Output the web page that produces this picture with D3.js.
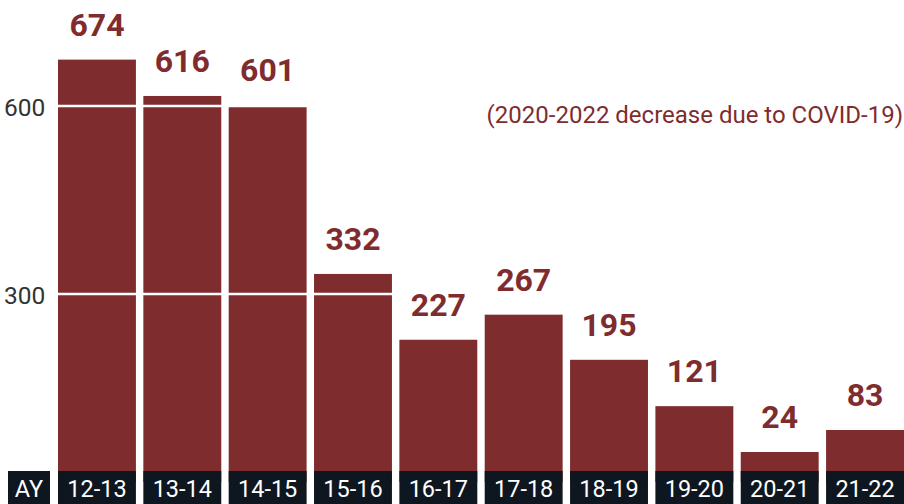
<!DOCTYPE html>
<html>
<head>
<meta charset="utf-8">
<script src="https://cdn.jsdelivr.net/npm/d3@7"></script>
<style>
  body { margin: 0; background: #fff; }
  svg { display: block; font-family: Roboto, "Noto Sans", sans-serif; }
</style>
</head>
<body>
<div id="chart"></div>
<script>
// academic years and enrolment counts
var years = ['12-13', '13-14', '14-15', '15-16', '16-17', '17-18', '18-19', '19-20', '20-21', '21-22'];
var counts = [674, 616, 601, 332, 227, 267, 195, 121, 24, 83];
var yTicks = [300, 600];
var note = '(2020-2022 decrease due to COVID-19)';

var width = 904, height = 504;
var barColor = '#7f2c2e', boxColor = '#0e1720';

var svg = d3.select('#chart').append('svg')
    .attr('width', width)
    .attr('height', height);

var x = d3.scaleBand()
    .domain(years)
    .range([58, 904])
    .paddingInner(0.087)
    .paddingOuter(0);

var y = d3.scaleLinear()
    .domain([0, 600])
    .range([482, 106]);

var boxTop = 471;

// bar top, with a minimum visible height above the label strip
function barTop(d) { return Math.min(y(d), boxTop - 19); }

svg.selectAll('rect.bar')
  .data(counts)
  .enter()
  .append('rect')
    .attr('class', 'bar')
    .attr('x', function(d, i) { return x(years[i]); })
    .attr('width', x.bandwidth())
    .attr('y', barTop)
    .attr('height', function(d) { return y(0) - barTop(d); })
    .style('fill', barColor);

// white grid lines across the bars
svg.selectAll('line.grid')
  .data(yTicks)
  .enter()
  .append('line')
    .attr('x1', 52)
    .attr('x2', width)
    .attr('y1', function(d) { return y(d); })
    .attr('y2', function(d) { return y(d); })
    .style('stroke', '#fff')
    .style('stroke-width', 2.5);

svg.selectAll('text.tick')
  .data(yTicks)
  .enter()
  .append('text')
    .attr('class', 'tick')
    .text(function(d) { return d; })
    .attr('x', 4)
    .attr('y', function(d) { return y(d) + 1; })
    .attr('dominant-baseline', 'central')
    .style('font-size', '24.5px')
    .style('fill', '#333');

// value labels
svg.selectAll('text.value')
  .data(counts)
  .enter()
  .append('text')
    .attr('class', 'value')
    .text(function(d) { return d; })
    .attr('x', function(d, i) { return x(years[i]) + x.bandwidth() / 2; })
    .attr('y', function(d) { return barTop(d) - 24; })
    .style('text-anchor', 'middle')
    .style('font-size', '32px')
    .style('font-weight', 'bold')
    .style('fill', barColor);

// category strip
svg.selectAll('rect.box')
  .data(years)
  .enter()
  .append('rect')
    .attr('class', 'box')
    .attr('x', function(d) { return x(d); })
    .attr('width', x.bandwidth())
    .attr('y', boxTop)
    .attr('height', height - boxTop)
    .style('fill', boxColor);

svg.selectAll('text.cat')
  .data(years)
  .enter()
  .append('text')
    .attr('class', 'cat')
    .text(function(d) { return d; })
    .attr('x', function(d) { return x(d) + x.bandwidth() / 2; })
    .attr('y', 497)
    .style('text-anchor', 'middle')
    .style('font-size', '23.5px')
    .style('fill', '#fff');

svg.append('rect')
    .attr('x', 8)
    .attr('width', 42)
    .attr('y', boxTop)
    .attr('height', height - boxTop)
    .style('fill', boxColor);

svg.append('text')
    .text('AY')
    .attr('x', 29)
    .attr('y', 497)
    .style('text-anchor', 'middle')
    .style('font-size', '23.5px')
    .style('fill', '#fff');

svg.append('text')
    .text(note)
    .attr('x', 903)
    .attr('y', 123)
    .style('text-anchor', 'end')
    .style('font-size', '24px')
    .style('fill', barColor);
</script>
</body>
</html>
